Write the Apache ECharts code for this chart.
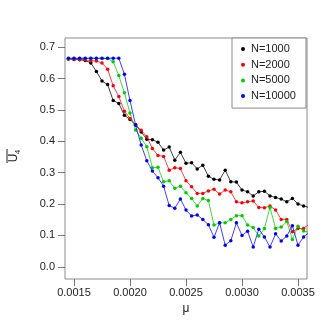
<!DOCTYPE html>
<html>
<head>
<meta charset="utf-8">
<script src="https://cdn.jsdelivr.net/npm/echarts@6/dist/echarts.min.js"></script>
<style>
  html, body { margin: 0; padding: 0; background: #fff; }
  #chart { width: 327px; height: 327px; }
</style>
</head>
<body>
<div id="chart"></div>
<script>
// mu values (x)
const mu = [
  0.00145, 0.00150, 0.00155, 0.00160, 0.00165, 0.00170, 0.00175, 0.00180, 0.00185, 0.00190,
  0.00195, 0.00200, 0.00205, 0.00210, 0.00215, 0.00220, 0.00225, 0.00230, 0.00235, 0.00240,
  0.00245, 0.00250, 0.00255, 0.00260, 0.00265, 0.00270, 0.00275, 0.00280, 0.00285, 0.00290,
  0.00295, 0.00300, 0.00305, 0.00310, 0.00315, 0.00320, 0.00325, 0.00330, 0.00335, 0.00340,
  0.00345, 0.00350, 0.00355, 0.00360
];

const n1000 = [
  0.663, 0.661, 0.660, 0.658, 0.650, 0.623, 0.592, 0.581, 0.530, 0.521,
  0.483, 0.470, 0.452, 0.430, 0.407, 0.405, 0.397, 0.372, 0.382, 0.340,
  0.365, 0.330, 0.332, 0.312, 0.324, 0.289, 0.279, 0.277, 0.308, 0.271,
  0.270, 0.245, 0.239, 0.226, 0.239, 0.241, 0.226, 0.221, 0.216, 0.207,
  0.218, 0.200, 0.194, 0.189
];
const n2000 = [
  0.662, 0.662, 0.661, 0.660, 0.657, 0.656, 0.650, 0.630, 0.577, 0.543,
  0.496, 0.473, 0.453, 0.435, 0.415, 0.377, 0.355, 0.352, 0.308, 0.316,
  0.313, 0.274, 0.255, 0.234, 0.234, 0.242, 0.247, 0.232, 0.245, 0.239,
  0.207, 0.204, 0.207, 0.210, 0.189, 0.188, 0.194, 0.181, 0.151, 0.151,
  0.112, 0.122, 0.122, 0.136
];
const n5000 = [
  0.664, 0.664, 0.664, 0.664, 0.664, 0.664, 0.664, 0.664, 0.654, 0.610,
  0.555, 0.490, 0.436, 0.410, 0.383, 0.316, 0.317, 0.271, 0.274, 0.250,
  0.257, 0.236, 0.218, 0.194, 0.218, 0.211, 0.133, 0.140, 0.140, 0.151,
  0.163, 0.163, 0.133, 0.125, 0.098, 0.122, 0.189, 0.122, 0.127, 0.144,
  0.087, 0.129, 0.114, 0.110
];
const n10000 = [
  0.665, 0.665, 0.665, 0.665, 0.665, 0.665, 0.665, 0.665, 0.665, 0.665,
  0.614, 0.530, 0.452, 0.388, 0.338, 0.305, 0.284, 0.257, 0.195, 0.187,
  0.216, 0.181, 0.162, 0.165, 0.151, 0.134, 0.094, 0.140, 0.069, 0.083,
  0.140, 0.100, 0.113, 0.063, 0.120, 0.095, 0.063, 0.105, 0.082, 0.098,
  0.131, 0.069, 0.095, 0.110
];

const seriesNames = ['N=1000', 'N=2000', 'N=5000', 'N=10000'];
const seriesColors = ['#000000', '#ff0000', '#00cd00', '#0000ff'];
const xTicks = [0.0015, 0.0020, 0.0025, 0.0030, 0.0035];
const yTicks = [0.0, 0.1, 0.2, 0.3, 0.4, 0.5, 0.6, 0.7];

const font = 'Liberation Sans, Arial, Helvetica, sans-serif';
const chart = echarts.init(document.getElementById('chart'), null, { renderer: 'canvas' });

function pairs(ys) {
  return ys.map((y, i) => [mu[i], y]);
}

const option = {
  animation: false,
  backgroundColor: '#fff',
  grid: {
    left: 65, top: 38, width: 242, height: 241,
    show: true, borderColor: '#8a8a8a', borderWidth: 1, backgroundColor: 'transparent'
  },
  xAxis: {
    type: 'value',
    min: 0.0014196, max: 0.0035804,
    axisLine: { show: false, onZero: false },
    splitLine: { show: false },
    axisTick: { show: true, inside: false, customValues: xTicks, length: 7, lineStyle: { color: '#777' } },
    axisLabel: {
      customValues: xTicks, margin: 8, color: '#222', fontSize: 11, fontFamily: font,
      formatter: v => v.toFixed(4)
    },
    name: 'μ', nameLocation: 'middle', nameGap: 24,
    nameTextStyle: { color: '#222', fontSize: 12, fontFamily: font }
  },
  yAxis: {
    type: 'value',
    min: -0.039, max: 0.7295,
    axisLine: { show: false, onZero: false },
    splitLine: { show: false },
    axisTick: { show: true, inside: false, customValues: yTicks, length: 7, lineStyle: { color: '#777' } },
    axisLabel: {
      customValues: yTicks, margin: 10, color: '#222', fontSize: 11, fontFamily: font,
      formatter: v => v.toFixed(1)
    }
  },
  legend: {
    orient: 'vertical',
    left: 232, top: 38,
    padding: [5, 10, 6, 9],
    itemGap: 3.7,
    itemWidth: 4, itemHeight: 4,
    icon: 'circle',
    borderColor: '#8a8a8a', borderWidth: 1,
    backgroundColor: '#fff',
    textStyle: { color: '#222', fontSize: 11, fontFamily: font, lineHeight: 12, padding: [0, 0, 0, 1] },
    data: seriesNames
  },
  graphic: [{
    type: 'group',
    x: 14, y: 158,
    rotation: Math.PI / 2,
    children: [
      { type: 'text', x: 0, y: 0, style: { text: 'U', font: '12px ' + font, fill: '#222', align: 'center', verticalAlign: 'middle' } },
      { type: 'text', x: 6, y: 4, style: { text: '4', font: '8px ' + font, fill: '#222', align: 'center', verticalAlign: 'middle' } },
      { type: 'line', shape: { x1: -5, y1: -7, x2: 9, y2: -7 }, style: { stroke: '#222', lineWidth: 1 } }
    ]
  }],
  series: [n1000, n2000, n5000, n10000].map((ys, k) => ({
    name: seriesNames[k],
    type: 'line',
    data: pairs(ys),
    clip: true,
    symbol: 'circle',
    symbolSize: 3.5,
    itemStyle: { color: seriesColors[k] },
    lineStyle: { color: seriesColors[k], width: 1, opacity: 0.75 },
    z: 2 + k
  }))
};

chart.setOption(option);
</script>
</body>
</html>
